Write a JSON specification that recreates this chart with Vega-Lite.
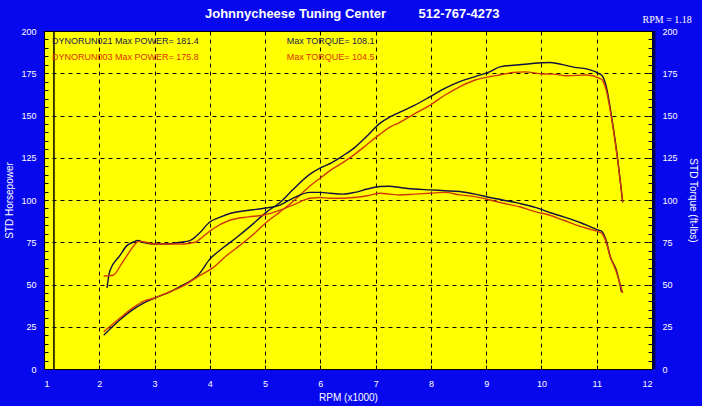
{
  "$schema": "https://vega.github.io/schema/vega-lite/v6.json",
  "width": 608,
  "height": 338,
  "autosize": {"type": "none"},
  "padding": {"left": 44, "top": 31, "right": 50, "bottom": 37},
  "background": "#0808ee",
  "config": {
    "view": {"fill": "#ffff00", "stroke": "#000000", "strokeWidth": 1},
    "font": "Liberation Sans",
    "axis": {"labelColor": "#ffffff", "titleColor": "#ffffff", "labelFontSize": 9, "titleFontSize": 10, "titleFontWeight": "normal", "domain": false, "tickColor": "#000000"}
  },
  "title": {
    "text": "Johnnycheese Tuning Center\u00a0\u00a0\u00a0\u00a0\u00a0\u00a0\u00a0\u00a0\u00a0512-767-4273",
    "anchor": "start",
    "frame": "group",
    "dx": 161,
    "dy": 16,
    "offset": 10,
    "color": "#ffffff",
    "font": "Liberation Sans",
    "fontSize": 13,
    "fontWeight": "bold"
  },
  "data": {"values": [{}]},
  "datasets": {
    "curves": [
      {"rpm": 2.14, "run": "021", "m": "tq", "v": 48},
      {"rpm": 2.19, "run": "021", "m": "tq", "v": 58},
      {"rpm": 2.37, "run": "021", "m": "tq", "v": 67},
      {"rpm": 2.5, "run": "021", "m": "tq", "v": 73},
      {"rpm": 2.61, "run": "021", "m": "tq", "v": 75},
      {"rpm": 2.7, "run": "021", "m": "tq", "v": 76},
      {"rpm": 2.79, "run": "021", "m": "tq", "v": 75},
      {"rpm": 2.97, "run": "021", "m": "tq", "v": 74},
      {"rpm": 3.2, "run": "021", "m": "tq", "v": 74},
      {"rpm": 3.46, "run": "021", "m": "tq", "v": 75},
      {"rpm": 3.64, "run": "021", "m": "tq", "v": 76},
      {"rpm": 3.8, "run": "021", "m": "tq", "v": 80},
      {"rpm": 4.0, "run": "021", "m": "tq", "v": 87},
      {"rpm": 4.2, "run": "021", "m": "tq", "v": 90},
      {"rpm": 4.36, "run": "021", "m": "tq", "v": 92},
      {"rpm": 4.6, "run": "021", "m": "tq", "v": 93.5},
      {"rpm": 4.96, "run": "021", "m": "tq", "v": 95},
      {"rpm": 5.27, "run": "021", "m": "tq", "v": 97},
      {"rpm": 5.5, "run": "021", "m": "tq", "v": 101},
      {"rpm": 5.81, "run": "021", "m": "tq", "v": 104.5},
      {"rpm": 6.0, "run": "021", "m": "tq", "v": 104.5},
      {"rpm": 6.17, "run": "021", "m": "tq", "v": 104},
      {"rpm": 6.4, "run": "021", "m": "tq", "v": 103.5},
      {"rpm": 6.62, "run": "021", "m": "tq", "v": 104.5},
      {"rpm": 6.85, "run": "021", "m": "tq", "v": 106.5},
      {"rpm": 7.08, "run": "021", "m": "tq", "v": 108},
      {"rpm": 7.25, "run": "021", "m": "tq", "v": 108.1},
      {"rpm": 7.44, "run": "021", "m": "tq", "v": 107.4},
      {"rpm": 7.7, "run": "021", "m": "tq", "v": 106.5},
      {"rpm": 7.98, "run": "021", "m": "tq", "v": 106},
      {"rpm": 8.25, "run": "021", "m": "tq", "v": 105.5},
      {"rpm": 8.52, "run": "021", "m": "tq", "v": 105},
      {"rpm": 8.8, "run": "021", "m": "tq", "v": 103.5},
      {"rpm": 9.07, "run": "021", "m": "tq", "v": 101.5},
      {"rpm": 9.3, "run": "021", "m": "tq", "v": 100},
      {"rpm": 9.6, "run": "021", "m": "tq", "v": 98},
      {"rpm": 9.9, "run": "021", "m": "tq", "v": 95.5},
      {"rpm": 10.15, "run": "021", "m": "tq", "v": 92.6},
      {"rpm": 10.4, "run": "021", "m": "tq", "v": 90},
      {"rpm": 10.7, "run": "021", "m": "tq", "v": 86.7},
      {"rpm": 10.9, "run": "021", "m": "tq", "v": 84},
      {"rpm": 11.05, "run": "021", "m": "tq", "v": 82},
      {"rpm": 11.09, "run": "021", "m": "tq", "v": 81.5},
      {"rpm": 11.18, "run": "021", "m": "tq", "v": 75},
      {"rpm": 11.24, "run": "021", "m": "tq", "v": 67},
      {"rpm": 11.36, "run": "021", "m": "tq", "v": 58},
      {"rpm": 11.45, "run": "021", "m": "tq", "v": 45.5},

      {"rpm": 2.08, "run": "003", "m": "tq", "v": 55},
      {"rpm": 2.25, "run": "003", "m": "tq", "v": 55.5},
      {"rpm": 2.4, "run": "003", "m": "tq", "v": 62},
      {"rpm": 2.56, "run": "003", "m": "tq", "v": 70},
      {"rpm": 2.65, "run": "003", "m": "tq", "v": 74},
      {"rpm": 2.72, "run": "003", "m": "tq", "v": 75.5},
      {"rpm": 2.85, "run": "003", "m": "tq", "v": 75},
      {"rpm": 2.97, "run": "003", "m": "tq", "v": 74},
      {"rpm": 3.2, "run": "003", "m": "tq", "v": 74},
      {"rpm": 3.51, "run": "003", "m": "tq", "v": 74},
      {"rpm": 3.73, "run": "003", "m": "tq", "v": 75},
      {"rpm": 3.9, "run": "003", "m": "tq", "v": 79},
      {"rpm": 4.06, "run": "003", "m": "tq", "v": 83},
      {"rpm": 4.36, "run": "003", "m": "tq", "v": 88},
      {"rpm": 4.7, "run": "003", "m": "tq", "v": 90},
      {"rpm": 4.96, "run": "003", "m": "tq", "v": 91},
      {"rpm": 5.27, "run": "003", "m": "tq", "v": 94},
      {"rpm": 5.5, "run": "003", "m": "tq", "v": 97},
      {"rpm": 5.81, "run": "003", "m": "tq", "v": 101},
      {"rpm": 6.0, "run": "003", "m": "tq", "v": 101.5},
      {"rpm": 6.17, "run": "003", "m": "tq", "v": 101},
      {"rpm": 6.4, "run": "003", "m": "tq", "v": 101},
      {"rpm": 6.62, "run": "003", "m": "tq", "v": 101.5},
      {"rpm": 6.85, "run": "003", "m": "tq", "v": 102.5},
      {"rpm": 7.08, "run": "003", "m": "tq", "v": 104},
      {"rpm": 7.25, "run": "003", "m": "tq", "v": 103.5},
      {"rpm": 7.44, "run": "003", "m": "tq", "v": 103},
      {"rpm": 7.7, "run": "003", "m": "tq", "v": 103.5},
      {"rpm": 7.98, "run": "003", "m": "tq", "v": 104},
      {"rpm": 8.25, "run": "003", "m": "tq", "v": 104.5},
      {"rpm": 8.52, "run": "003", "m": "tq", "v": 103},
      {"rpm": 8.8, "run": "003", "m": "tq", "v": 102},
      {"rpm": 9.07, "run": "003", "m": "tq", "v": 100},
      {"rpm": 9.25, "run": "003", "m": "tq", "v": 98.5},
      {"rpm": 9.6, "run": "003", "m": "tq", "v": 96},
      {"rpm": 9.9, "run": "003", "m": "tq", "v": 93},
      {"rpm": 10.15, "run": "003", "m": "tq", "v": 91},
      {"rpm": 10.4, "run": "003", "m": "tq", "v": 88},
      {"rpm": 10.7, "run": "003", "m": "tq", "v": 84.4},
      {"rpm": 10.9, "run": "003", "m": "tq", "v": 82.5},
      {"rpm": 11.05, "run": "003", "m": "tq", "v": 81},
      {"rpm": 11.1, "run": "003", "m": "tq", "v": 80},
      {"rpm": 11.18, "run": "003", "m": "tq", "v": 74},
      {"rpm": 11.24, "run": "003", "m": "tq", "v": 67},
      {"rpm": 11.36, "run": "003", "m": "tq", "v": 57},
      {"rpm": 11.47, "run": "003", "m": "tq", "v": 45},

      {"rpm": 2.08, "run": "021", "m": "hp", "v": 20},
      {"rpm": 2.37, "run": "021", "m": "hp", "v": 29},
      {"rpm": 2.6, "run": "021", "m": "hp", "v": 35},
      {"rpm": 2.8, "run": "021", "m": "hp", "v": 39},
      {"rpm": 3.0, "run": "021", "m": "hp", "v": 42},
      {"rpm": 3.3, "run": "021", "m": "hp", "v": 46},
      {"rpm": 3.51, "run": "021", "m": "hp", "v": 49.6},
      {"rpm": 3.8, "run": "021", "m": "hp", "v": 56},
      {"rpm": 4.0, "run": "021", "m": "hp", "v": 65},
      {"rpm": 4.25, "run": "021", "m": "hp", "v": 72},
      {"rpm": 4.49, "run": "021", "m": "hp", "v": 78},
      {"rpm": 4.75, "run": "021", "m": "hp", "v": 85},
      {"rpm": 5.03, "run": "021", "m": "hp", "v": 93},
      {"rpm": 5.27, "run": "021", "m": "hp", "v": 98.5},
      {"rpm": 5.5, "run": "021", "m": "hp", "v": 106},
      {"rpm": 5.8, "run": "021", "m": "hp", "v": 115},
      {"rpm": 6.0, "run": "021", "m": "hp", "v": 119},
      {"rpm": 6.2, "run": "021", "m": "hp", "v": 122},
      {"rpm": 6.4, "run": "021", "m": "hp", "v": 126},
      {"rpm": 6.62, "run": "021", "m": "hp", "v": 131},
      {"rpm": 6.85, "run": "021", "m": "hp", "v": 138},
      {"rpm": 7.08, "run": "021", "m": "hp", "v": 145.5},
      {"rpm": 7.25, "run": "021", "m": "hp", "v": 149},
      {"rpm": 7.44, "run": "021", "m": "hp", "v": 152},
      {"rpm": 7.7, "run": "021", "m": "hp", "v": 156},
      {"rpm": 7.98, "run": "021", "m": "hp", "v": 161},
      {"rpm": 8.25, "run": "021", "m": "hp", "v": 166},
      {"rpm": 8.52, "run": "021", "m": "hp", "v": 170},
      {"rpm": 8.8, "run": "021", "m": "hp", "v": 173},
      {"rpm": 9.07, "run": "021", "m": "hp", "v": 176},
      {"rpm": 9.25, "run": "021", "m": "hp", "v": 178.8},
      {"rpm": 9.6, "run": "021", "m": "hp", "v": 180},
      {"rpm": 10.0, "run": "021", "m": "hp", "v": 181.2},
      {"rpm": 10.15, "run": "021", "m": "hp", "v": 181.4},
      {"rpm": 10.33, "run": "021", "m": "hp", "v": 180.5},
      {"rpm": 10.6, "run": "021", "m": "hp", "v": 178.5},
      {"rpm": 10.82, "run": "021", "m": "hp", "v": 177.6},
      {"rpm": 11.05, "run": "021", "m": "hp", "v": 174.6},
      {"rpm": 11.1, "run": "021", "m": "hp", "v": 173.5},
      {"rpm": 11.18, "run": "021", "m": "hp", "v": 166},
      {"rpm": 11.27, "run": "021", "m": "hp", "v": 149},
      {"rpm": 11.36, "run": "021", "m": "hp", "v": 129},
      {"rpm": 11.47, "run": "021", "m": "hp", "v": 98.5},

      {"rpm": 2.08, "run": "003", "m": "hp", "v": 22},
      {"rpm": 2.37, "run": "003", "m": "hp", "v": 30},
      {"rpm": 2.6, "run": "003", "m": "hp", "v": 36},
      {"rpm": 2.8, "run": "003", "m": "hp", "v": 40},
      {"rpm": 3.0, "run": "003", "m": "hp", "v": 42},
      {"rpm": 3.3, "run": "003", "m": "hp", "v": 46},
      {"rpm": 3.51, "run": "003", "m": "hp", "v": 49},
      {"rpm": 3.8, "run": "003", "m": "hp", "v": 55},
      {"rpm": 4.06, "run": "003", "m": "hp", "v": 60},
      {"rpm": 4.3, "run": "003", "m": "hp", "v": 67},
      {"rpm": 4.54, "run": "003", "m": "hp", "v": 73},
      {"rpm": 4.8, "run": "003", "m": "hp", "v": 80},
      {"rpm": 5.03, "run": "003", "m": "hp", "v": 87},
      {"rpm": 5.27, "run": "003", "m": "hp", "v": 93},
      {"rpm": 5.5, "run": "003", "m": "hp", "v": 99},
      {"rpm": 5.8, "run": "003", "m": "hp", "v": 108},
      {"rpm": 6.0, "run": "003", "m": "hp", "v": 113},
      {"rpm": 6.2, "run": "003", "m": "hp", "v": 118},
      {"rpm": 6.4, "run": "003", "m": "hp", "v": 122},
      {"rpm": 6.62, "run": "003", "m": "hp", "v": 127},
      {"rpm": 6.85, "run": "003", "m": "hp", "v": 133},
      {"rpm": 7.08, "run": "003", "m": "hp", "v": 139},
      {"rpm": 7.25, "run": "003", "m": "hp", "v": 143},
      {"rpm": 7.44, "run": "003", "m": "hp", "v": 146},
      {"rpm": 7.7, "run": "003", "m": "hp", "v": 151},
      {"rpm": 7.98, "run": "003", "m": "hp", "v": 156},
      {"rpm": 8.25, "run": "003", "m": "hp", "v": 162},
      {"rpm": 8.52, "run": "003", "m": "hp", "v": 167},
      {"rpm": 8.8, "run": "003", "m": "hp", "v": 171},
      {"rpm": 9.07, "run": "003", "m": "hp", "v": 173},
      {"rpm": 9.25, "run": "003", "m": "hp", "v": 174},
      {"rpm": 9.5, "run": "003", "m": "hp", "v": 175.5},
      {"rpm": 9.7, "run": "003", "m": "hp", "v": 175.8},
      {"rpm": 10.02, "run": "003", "m": "hp", "v": 174.6},
      {"rpm": 10.2, "run": "003", "m": "hp", "v": 174.5},
      {"rpm": 10.46, "run": "003", "m": "hp", "v": 173.5},
      {"rpm": 10.82, "run": "003", "m": "hp", "v": 174},
      {"rpm": 11.05, "run": "003", "m": "hp", "v": 172},
      {"rpm": 11.1, "run": "003", "m": "hp", "v": 171},
      {"rpm": 11.18, "run": "003", "m": "hp", "v": 164},
      {"rpm": 11.27, "run": "003", "m": "hp", "v": 148},
      {"rpm": 11.36, "run": "003", "m": "hp", "v": 128},
      {"rpm": 11.47, "run": "003", "m": "hp", "v": 99}
    ]
  },
  "layer": [
    {
      "data": {"name": "curves"},
      "transform": [{"filter": "datum.m === 'hp'"}],
      "mark": {"type": "line", "strokeWidth": 1.4, "interpolate": "monotone"},
      "encoding": {
        "x": {
          "field": "rpm", "type": "quantitative",
          "scale": {"domain": [1, 12], "nice": false, "zero": false},
          "axis": {
            "title": "RPM (x1000)",
            "values": [1,1.25,1.5,1.75,2,2.25,2.5,2.75,3,3.25,3.5,3.75,4,4.25,4.5,4.75,5,5.25,5.5,5.75,6,6.25,6.5,6.75,7,7.25,7.5,7.75,8,8.25,8.5,8.75,9,9.25,9.5,9.75,10,10.25,10.5,10.75,11,11.25,11.5,11.75,12],
            "labelExpr": "datum.value % 1 === 0 ? format(datum.value, 'd') : ''",
            "grid": true,
            "gridColor": "#000000",
            "gridDash": [4, 4],
            "gridOpacity": {"condition": {"test": "datum.value % 1 === 0 && datum.value > 1 && datum.value < 12", "value": 1}, "value": 0},
            "tickSize": -4,
            "labelPadding": 14,
            "titlePadding": 4
          }
        },
        "y": {
          "field": "v", "type": "quantitative",
          "scale": {"domain": [0, 200], "nice": false},
          "axis": {
            "title": "STD Horsepower",
            "orient": "left",
            "values": [0,5,10,15,20,25,30,35,40,45,50,55,60,65,70,75,80,85,90,95,100,105,110,115,120,125,130,135,140,145,150,155,160,165,170,175,180,185,190,195,200],
            "labelExpr": "datum.value % 25 === 0 ? format(datum.value, 'd') : ''",
            "grid": true,
            "gridColor": "#000000",
            "gridDash": [4, 4],
            "gridOpacity": {"condition": {"test": "datum.value % 25 === 0 && datum.value > 0 && datum.value < 200", "value": 1}, "value": 0},
            "tickSize": -4,
            "labelPadding": 12,
            "titlePadding": 6
          }
        },
        "color": {
          "field": "run", "type": "nominal",
          "scale": {"domain": ["021", "003"], "range": ["#101040", "#d03808"]},
          "legend": null
        }
      }
    },
    {
      "data": {"name": "curves"},
      "transform": [{"filter": "datum.m === 'tq'"}],
      "mark": {"type": "line", "strokeWidth": 1.4, "interpolate": "monotone"},
      "encoding": {
        "x": {"field": "rpm", "type": "quantitative"},
        "y": {
          "field": "v", "type": "quantitative",
          "axis": {
            "title": "STD Torque (ft-lbs)",
            "orient": "right",
            "values": [0,5,10,15,20,25,30,35,40,45,50,55,60,65,70,75,80,85,90,95,100,105,110,115,120,125,130,135,140,145,150,155,160,165,170,175,180,185,190,195,200],
            "labelExpr": "datum.value % 25 === 0 ? format(datum.value, 'd') : ''",
            "grid": false,
            "tickSize": -4,
            "labelPadding": 14,
            "titlePadding": 10
          }
        },
        "color": {"field": "run", "type": "nominal"}
      }
    },
    {
      "mark": {"type": "rule", "color": "#000000", "strokeWidth": 1.5},
      "encoding": {"x": {"datum": 1.18}}
    },
    {
      "mark": {"type": "rule", "color": "#00005a", "strokeWidth": 3, "xOffset": 2},
      "encoding": {"x": {"datum": 12}}
    },
    {
      "mark": {"type": "text", "text": "DYNORUN021  Max POWER= 181.4", "align": "left", "baseline": "middle", "fontSize": 9, "color": "#202050"},
      "encoding": {"x": {"datum": 1.145}, "y": {"datum": 194, "axis": null}}
    },
    {
      "mark": {"type": "text", "text": "DYNORUN003  Max POWER= 175.8", "align": "left", "baseline": "middle", "fontSize": 9, "color": "#e03000"},
      "encoding": {"x": {"datum": 1.145}, "y": {"datum": 184.6, "axis": null}}
    },
    {
      "mark": {"type": "text", "text": "Max TORQUE= 108.1", "align": "left", "baseline": "middle", "fontSize": 9, "color": "#202050"},
      "encoding": {"x": {"datum": 5.39}, "y": {"datum": 194, "axis": null}}
    },
    {
      "mark": {"type": "text", "text": "Max TORQUE= 104.5", "align": "left", "baseline": "middle", "fontSize": 9, "color": "#e03000"},
      "encoding": {"x": {"datum": 5.39}, "y": {"datum": 184.6, "axis": null}}
    },
    {
      "mark": {"type": "text", "text": "RPM = 1.18", "align": "right", "baseline": "middle", "fontSize": 10, "font": "Liberation Serif", "color": "#ffffff"},
      "encoding": {"x": {"datum": 12.72}, "y": {"datum": 206.5, "axis": null}}
    }
  ],
  "resolve": {"axis": {"y": "independent"}}
}
